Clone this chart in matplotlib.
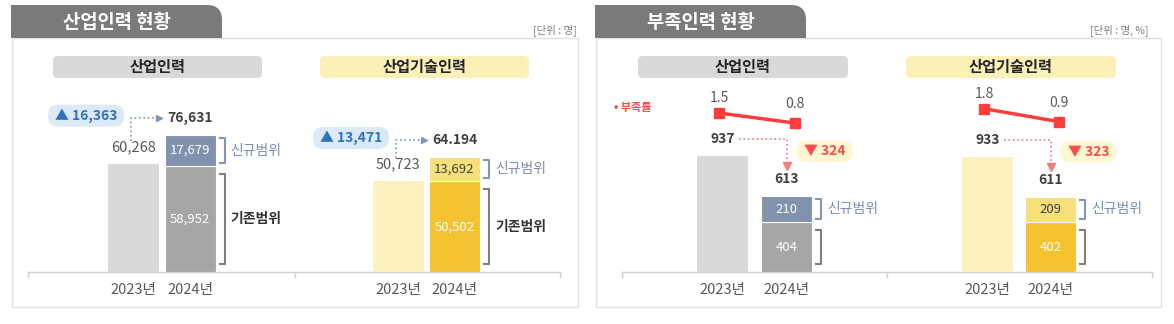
import numpy as np
import matplotlib.pyplot as plt
from matplotlib.patches import FancyBboxPatch, PathPatch, Rectangle
from matplotlib.path import Path

plt.rcParams['font.family'] = ['Noto Sans CJK KR', 'DejaVu Sans']

W, H = 1174, 324

years = ['2023년', '2024년']

# 산업인력 현황 (단위: 명)
ind_total = [60268, 76631]
ind_total_labels = ['60,268', '76,631']
ind_exist = 58952
ind_new = 17679
ind_change = '▲ 16,363'

tech_total = [50723, 64194]
tech_total_labels = ['50,723', '64.194']
tech_exist = 50502
tech_new = 13692
tech_change = '▲ 13,471'

# 부족인력 현황 (단위: 명, %)
short_ind_total = [937, 613]
short_ind_exist = 404
short_ind_new = 210
short_ind_rate = [1.5, 0.8]
short_ind_change = '▼ 324'

short_tech_total = [933, 611]
short_tech_exist = 402
short_tech_new = 209
short_tech_rate = [1.8, 0.9]
short_tech_change = '▼ 323'

# colours: 2023 bar, 2024 existing, 2024 new, text on new segment
GRAY_SET = ['#d9d9d9', '#a6a6a6', '#8191ae', 'white']
YELLOW_SET = ['#fcf2c0', '#f5c232', '#f6e07c', '#404040']

fig = plt.figure(figsize=(W / 100, H / 100), dpi=100)
bg = fig.add_axes([0, 0, 1, 1])
bg.set_xlim(0, W)
bg.set_ylim(H, 0)
bg.axis('off')


def px_axes(left, top, right, bottom):
    return fig.add_axes([left / W, 1 - bottom / H, (right - left) / W, (bottom - top) / H])


def to_px(ax, x, y):
    return bg.transData.inverted().transform(ax.transData.transform((x, y)))


def panel(left, right, tab_right, title, unit, unit_x):
    bg.add_patch(Rectangle((left, 38), right - left, 269, fill=False, ec='#e0e0e0', lw=1))
    top, bot, r = 5, 38, 15
    verts = [(left - 1, bot), (left - 1, top), (tab_right - r, top), (tab_right, top),
             (tab_right, top + r), (tab_right, bot), (left - 1, bot)]
    codes = [Path.MOVETO, Path.LINETO, Path.LINETO, Path.CURVE3, Path.CURVE3,
             Path.LINETO, Path.CLOSEPOLY]
    bg.add_patch(PathPatch(Path(verts, codes), fc='#7a7a7a', ec='none'))
    bg.text((left + tab_right) / 2, 23, title, ha='center', va='center', color='white',
            fontsize=13.5, fontweight='bold')
    bg.text(unit_x, 30, unit, ha='right', va='center', color='#7f7f7f', fontsize=7.5)


def pill(x0, x1, text, fc):
    bg.add_patch(FancyBboxPatch((x0, 56), x1 - x0, 22, boxstyle='round,pad=0,rounding_size=5',
                                fc=fc, ec='none'))
    bg.text((x0 + x1) / 2, 67, text, ha='center', va='center', fontsize=11,
            fontweight='bold', color='#262626')


def badge(ax, x, y, text, w, h, fc, tc):
    cx, cy = to_px(ax, x, y)
    bg.add_patch(FancyBboxPatch((cx - w / 2, cy - h / 2), w, h,
                                boxstyle=f'round,pad=0,rounding_size={h / 2 - 1}', fc=fc, ec='none'))
    bg.text(cx, cy, text, ha='center', va='center', fontsize=10, fontweight='bold', color=tc)


def bracket(ax, x0, x1, y0, y1, color):
    ax.plot([x0, x1, x1, x0], [y0, y0, y1, y1], color=color, lw=1.5, clip_on=False)


def chart(c0, sp, dpx, totals, exist, new, cols, exist_text):
    ax = px_axes(c0 - 1.5 * sp, 90, c0 + 2.5 * sp, 272)
    ax.set_xlim(-1.5, 2.5)
    ax.set_ylim(0, 182 * dpx)
    ax.patch.set_alpha(0)
    for s in ax.spines.values():
        s.set_visible(False)
    ax.set_yticks([])
    ax.set_xticks([0, 1], years)
    ax.tick_params(axis='x', length=0, pad=8, labelsize=10.5, labelcolor='#595959')
    dx, dy = 1 / sp, dpx
    bw = 51 * dx
    ax.bar(0, totals[0], bw, color=cols[0])
    ax.bar(1, exist, bw, color=cols[1], edgecolor='white', linewidth=0.8)
    ax.bar(1, new, bw, bottom=exist, color=cols[2], edgecolor='white', linewidth=0.8)
    ax.text(1, exist / 2, f'{exist:,}', ha='center', va='center', color='white', fontsize=9.5)
    ax.text(1, exist + new / 2, f'{new:,}', ha='center', va='center', color=cols[3], fontsize=9.5)

    # brackets for 신규범위 / 기존범위
    bx0 = 1 + bw / 2 + 4 * dx
    bx1 = bx0 + 5 * dx
    bracket(ax, bx0, bx1, exist + 3 * dy, exist + new - 3 * dy, '#8496b8')
    bracket(ax, bx0, bx1, 8 * dy, exist - 8 * dy, '#7f7f7f')
    ax.text(bx0 + 11 * dx, exist + new / 2, '신규범위', ha='left', va='center',
            color='#7b8db0', fontsize=10, clip_on=False)
    if exist_text:
        ax.text(bx0 + 11 * dx, exist / 2, '기존범위', ha='left', va='center',
                color='#333333', fontsize=10, fontweight='bold', clip_on=False)
    return ax, dx, dy


def growth_chart(c0, sp, totals, labels, exist, new, cols, change):
    ax, dx, dy = chart(c0, sp, 558, totals, exist, new, cols, True)
    y23 = totals[0] + 17 * dy
    y24 = totals[1] + 17 * dy
    ax.text(0, y23, labels[0], ha='center', va='center', color='#595959', fontsize=10.5)
    ax.text(1, y24, labels[1], ha='center', va='center', color='#404040', fontsize=10,
            fontweight='bold')
    xv = -2 * dx
    xe = 1 - 31 * dx
    ax.plot([xv, xv, xe], [y23 + 6 * dy, y24, y24], ls=':', color='#8096b8', lw=1.2, clip_on=False)
    ax.plot(xe, y24, marker='>', ms=5, color='#8096b8', clip_on=False)
    badge(ax, -47 * dx, y24 + 2 * dy, change, 76, 22, '#dce9f7', '#2e72bd')


def shortage_chart(c0, sp, totals, exist, new, rate, cols, change):
    ax, dx, dy = chart(c0, sp, 8.1, totals, exist, new, cols, False)
    y23 = totals[0] + 17 * dy
    y24 = totals[1] + 17 * dy
    ax.text(0, y23, f'{totals[0]:,}', ha='center', va='center', color='#404040', fontsize=10,
            fontweight='bold')
    ax.text(1, y24, f'{totals[1]:,}', ha='center', va='center', color='#404040', fontsize=10,
            fontweight='bold')
    x0 = 16 * dx
    tip = y24 + 13 * dy
    ax.plot([x0, 1, 1], [y23, y23, tip], ls=':', color='#f47c7c', lw=1.2, clip_on=False)
    ax.plot(1, tip, marker='v', ms=6, color='#f47c7c', clip_on=False)
    badge(ax, 1 + 38 * dx, totals[0] + 5 * dy, change, 56, 21, '#fff6d2', '#ff4b4b')

    # 부족률 line on its own scale
    ax2 = ax.twinx()
    ax2.set_ylim(-9.62, 3.11)
    ax2.axis('off')
    dr = 12.73 / 182
    xr = np.array([-0.05, 1.13])
    ax2.plot(xr, rate, color='#ff3d3d', lw=2.5, marker='s', ms=7, clip_on=False)
    for i, off in enumerate([15, 19]):
        ax2.text(xr[i], rate[i] + off * dr, f'{rate[i]:.1f}', ha='center', va='center',
                 color='#595959', fontsize=10)


panel(12, 578, 222, '산업인력 현황', '[단위 : 명]', 577)
panel(596, 1161, 806, '부족인력 현황', '[단위 : 명, %]', 1148)

pill(53, 262, '산업인력', '#d9d9d9')
pill(320, 529, '산업기술인력', '#fbf0b8')
pill(638, 848, '산업인력', '#d9d9d9')
pill(906, 1116, '산업기술인력', '#fbf0b8')

for x0, xm, x1 in [(28, 295, 560), (622, 887, 1152)]:
    bg.plot([x0, x1], [272, 272], color='#d0d0d0', lw=1)
    for xt in (x0, xm, x1):
        bg.plot([xt, xt], [272, 277], color='#d0d0d0', lw=1)

bg.text(614, 107, '• 부족률', ha='left', va='center', color='#ff4b4b', fontsize=8,
        fontweight='bold')

growth_chart(133, 57, ind_total, ind_total_labels, ind_exist, ind_new, GRAY_SET, ind_change)
growth_chart(398, 56.5, tech_total, tech_total_labels, tech_exist, tech_new, YELLOW_SET, tech_change)
shortage_chart(722.5, 64, short_ind_total, short_ind_exist, short_ind_new, short_ind_rate,
               GRAY_SET, short_ind_change)
shortage_chart(987.5, 63, short_tech_total, short_tech_exist, short_tech_new, short_tech_rate,
               YELLOW_SET, short_tech_change)

fig.savefig('out.png', dpi=100)
